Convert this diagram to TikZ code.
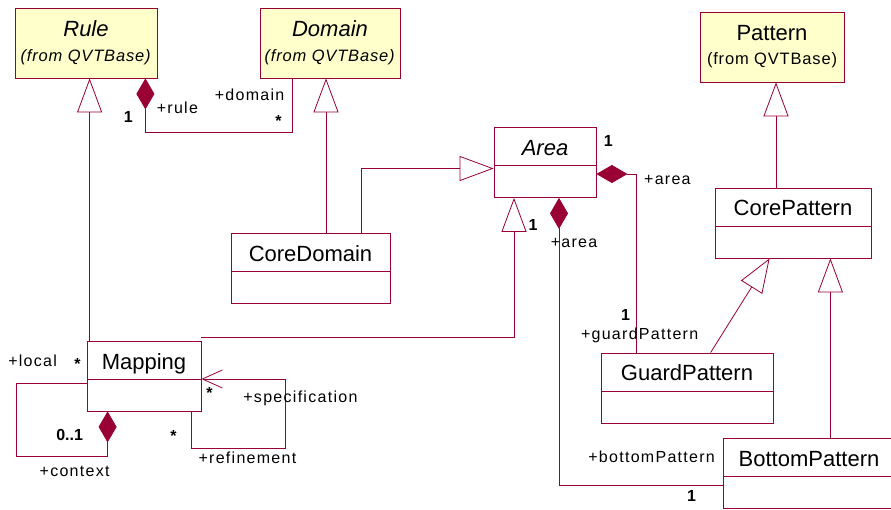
\documentclass[tikz,border=0pt]{standalone}
\usepackage{xcolor}
\usepackage{fontspec}
\setmainfont{Liberation Sans}
\usetikzlibrary{positioning,calc,arrows.meta}

\definecolor{umlred}{RGB}{153,0,51}
\definecolor{umlyellow}{RGB}{255,255,204}

\newcommand{\namefont}{\fontsize{22}{26}\selectfont}
\newcommand{\fromfont}{\fontsize{16.5}{19}\selectfont\addfontfeature{LetterSpace=5}}
\newcommand{\rolefont}{\fontsize{16}{18}\selectfont\addfontfeature{LetterSpace=8}}
\newcommand{\multfont}{\fontsize{16}{18}\selectfont\bfseries}

\tikzset{
	cls/.style={draw=umlred, line width=0.8pt, fill=white, font=\namefont, inner ysep=0pt, text height=28pt, text depth=42pt,
		path picture={\draw[umlred, line width=0.8pt] ([yshift=-38pt]path picture bounding box.north west) -- ([yshift=-38pt]path picture bounding box.north east);}},
	extcls/.style={draw=umlred, line width=0.8pt, fill=umlyellow, font=\namefont, inner ysep=0pt, text height=29pt, text depth=41pt},
	fromlbl/.style={font=\fromfont, inner sep=0pt, text height=12pt, text depth=3.5pt},
	lbl/.style={font=\rolefont, inner sep=0pt, text height=11pt, text depth=3pt},
	mult/.style={font=\multfont, inner sep=0pt, text height=11pt, text depth=3pt},
	gen/.style={draw=umlred, line width=0.8pt, -{Triangle[open, length=34pt, width=25pt, fill=white]}},
	comp/.style={draw=umlred, line width=0.8pt, {Diamond[length=31pt, width=18pt, fill=umlred]}-},
	nav/.style={draw=umlred, line width=0.8pt, -{Straight Barb[length=20pt, width=18pt]}},
}

\begin{document}
\begin{tikzpicture}[x=1pt, y=-1pt]
	\useasboundingbox (0,0) rectangle (891,510);
	
	% classes from QVTBase
	\node[extcls, minimum width=142pt] (rule) at (86,43) {\textit{Rule}};
	\node[fromlbl] (rulefrom) at ([yshift=-50pt]rule.north) {\textit{(from QVTBase)}};
	\node[extcls, minimum width=140pt] (domain) at (330,43) {\textit{Domain}};
	\node[fromlbl] (domainfrom) at ([yshift=-50pt]domain.north) {\textit{(from QVTBase)}};
	\node[extcls, minimum width=144pt] (pattern) at (772,47) {Pattern};
	\node[fromlbl] (patternfrom) at ([yshift=-49pt]pattern.north) {(from QVTBase)};
	
	% core classes
	\node[cls, minimum width=102pt] (area) at (545,162.5) {\textit{Area}};
	\node[cls, minimum width=159pt] (coredomain) at (310.5,268.5) {CoreDomain};
	\node[cls, minimum width=156pt] (corepattern) at (793,223) {CorePattern};
	\node[cls, minimum width=114pt] (mapping) at (144,376) {Mapping};
	\node[cls, minimum width=172pt] (guardpattern) at (687,388) {GuardPattern};
	\node[cls, minimum width=172pt] (bottompattern) at (809,473.5) {BottomPattern};
	
	% generalisations
	\draw[gen] ($(mapping.north west)+(3,0)$) -- ($(mapping.north west |- rule.south)+(3,0)$);
	\draw[gen] ($(coredomain.north -| domain.south)+(-4,0)$) -- ($(domain.south)+(-4,0)$);
	\draw[gen] ($(coredomain.north east)+(-29,0)$) |- ($(area.west)+(0,6)$);
	\draw[gen] ($(mapping.north east)+(0,-3)$) -| ($(area.south)+(-31,0)$);
	\draw[gen] ($(corepattern.north -| pattern.south)+(4,0)$) -- ($(pattern.south)+(4,0)$);
	\draw[gen] ($(guardpattern.north west)+(110,0)$) -- ($(corepattern.south west)+(55,0)$);
	\draw[gen] ($(bottompattern.north -| corepattern.south east)+(-41,0)$) -- ($(corepattern.south east)+(-41,0)$);
	
	% compositions
	\draw[comp] ($(rule.south east)+(-12,0)$) -- ++(0,54) -| ($(domain.south west)+(33,0)$);
	\draw[comp] ($(area.east)+(0,11.5)$) -| ($(guardpattern.north west)+(36,0)$);
	\draw[comp] ($(area.south)+(14,0)$) |- ($(bottompattern.west)+(0,11.5)$);
	\coordinate (ctxcorner) at (16,456);
	\draw[comp] ($(mapping.south west)+(21,0)$) |- (ctxcorner) |- ($(mapping.west)+(0,7)$);
	\coordinate (refcorner) at (285,448);
	\draw[nav] ($(mapping.south east)+(-10,0)$) |- (refcorner) |- ($(mapping.east)+(0,3)$);
	
	% roles and multiplicities
	\node[mult] (rulemult) at ([xshift=-29pt,yshift=-40pt]rule.south east) {1};
	\node[lbl] (rulerole) at ([xshift=20pt,yshift=-31pt]rule.south east) {+rule};
	\node[lbl] (domainrole) at ([xshift=-10pt,yshift=-18pt]domain.south west) {+domain};
	\node[mult] (domainmult) at ([xshift=19pt,yshift=-44pt]domain.south west) {*};
	\node[mult] (areamult) at ([xshift=12pt,yshift=-15pt]area.north east) {1};
	\node[lbl] (arearole) at ([xshift=71pt,yshift=-18.5pt]area.east) {+area};
	\node[mult] (areamultb) at ([xshift=-12pt,yshift=-29pt]area.south) {1};
	\node[lbl] (arearoleb) at ([xshift=29pt,yshift=-46pt]area.south) {+area};
	\node[mult] (guardmult) at ([xshift=25pt,yshift=36pt]guardpattern.north west) {1};
	\node[lbl] (guardrole) at ([xshift=39pt,yshift=17pt]guardpattern.north west) {+guardPattern};
	\node[lbl] (bottomrole) at ([xshift=-71pt,yshift=15.5pt]bottompattern.west) {+bottomPattern};
	\node[mult] (bottommult) at ([xshift=-31pt,yshift=-23.5pt]bottompattern.west) {1};
	\node[lbl] (localrole) at ([xshift=-54pt,yshift=-22pt]mapping.north west) {+local};
	\node[mult] (localmult) at ([xshift=-9pt,yshift=-25pt]mapping.north west) {*};
	\node[mult] (contextmult) at ([xshift=-17pt,yshift=-25pt]mapping.south west) {0..1};
	\node[lbl] (contextrole) at ([xshift=-12pt,yshift=-61pt]mapping.south west) {+context};
	\node[mult] (specmult) at ([xshift=8pt,yshift=-18pt]mapping.east) {*};
	\node[lbl] (specrole) at ([xshift=99pt,yshift=-22pt]mapping.east) {+specification};
	\node[mult] (refmult) at ([xshift=-28pt,yshift=-26pt]mapping.south east) {*};
	\node[lbl] (refrole) at ([xshift=46pt,yshift=-48pt]mapping.south east) {+refinement};
\end{tikzpicture}
\end{document}
